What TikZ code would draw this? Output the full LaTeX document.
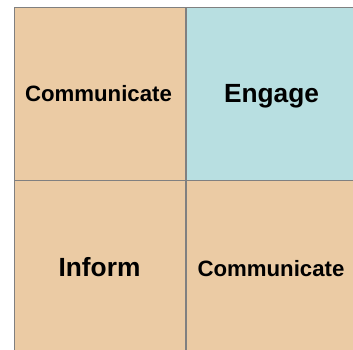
\documentclass[tikz,border=0pt]{standalone}
\usepackage{fontspec}
\setmainfont{Liberation Sans}
\definecolor{tan}{RGB}{235,203,164}
\definecolor{aqua}{RGB}{184,223,225}
\definecolor{gridline}{RGB}{128,128,128}
\tikzset{
  cell/.style={draw=gridline, line width=1.4pt},
  small/.style={anchor=base, inner sep=0pt, font=\bfseries\fontsize{22.2}{24}\selectfont},
  big/.style={anchor=base, inner sep=0pt, font=\bfseries\fontsize{26.3}{28}\selectfont}
}
\begin{document}
\begin{tikzpicture}[x=1pt,y=-1pt]
\useasboundingbox (0,0) rectangle (353,350);
\fill[white] (0,0) rectangle (353,350);
\begin{scope}
\clip (0,0) rectangle (353,350);
\fill[tan] (14.5,7.5) rectangle (186,180.5);
\fill[aqua] (186,7.5) rectangle (360,180.5);
\fill[tan] (14.5,180.5) rectangle (186,356);
\fill[tan] (186,180.5) rectangle (360,356);
\draw[cell] (14.5,7.5) rectangle (360,356);
\draw[cell] (186,7.5) -- (186,356);
\draw[cell] (14.5,180.5) -- (360,180.5);
\end{scope}
\node[small] (c1) at (98.5,101.7) {Communicate};
\node[big] (e) at (271.5,102.3) {Engage};
\node[big] (i) at (99.5,276.7) {Inform};
\node[small] (c2) at (271,276.7) {Communicate};
\end{tikzpicture}
\end{document}
